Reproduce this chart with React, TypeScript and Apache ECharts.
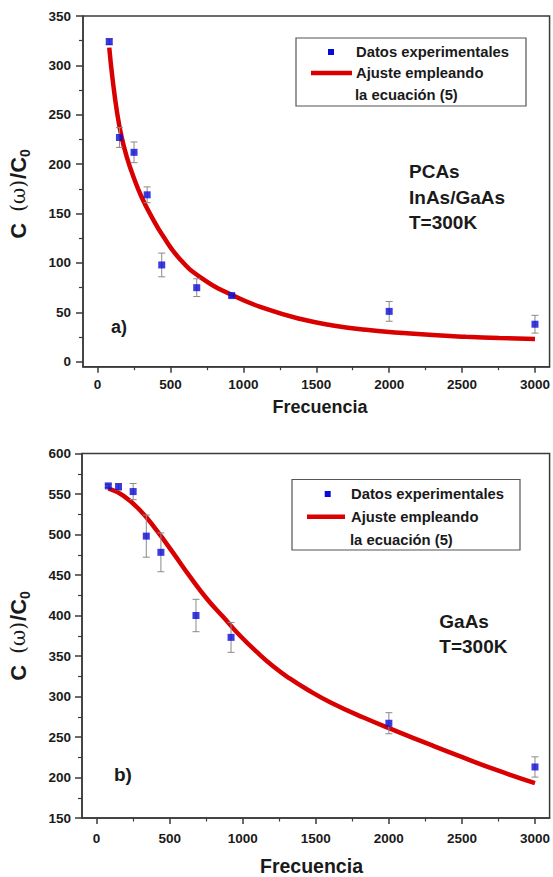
import React, { useEffect, useRef } from 'react';
import * as echarts from 'echarts';

// ---- Data ----
const FREQ = [80, 150, 250, 340, 440, 680, 920, 2000, 3000];
const TOP_VALUES = [324, 227, 212, 169, 98, 75, 67, 51, 38];
const TOP_ERRORS = [3, 10, 10.5, 8, 12, 9, 2, 10, 9];
const TOP_FIT_X = [80, 103, 134, 164, 199, 244, 301, 370, 450, 564, 701, 929, 1157, 1386, 1614, 1842, 2071, 2299, 2527, 2755, 3000];
const TOP_FIT_Y = [318, 286, 252, 228, 208, 188, 167, 147, 127, 104, 86, 67, 53.5, 43.5, 36.8, 32.4, 29.4, 27, 25.3, 24, 23];
const BOTTOM_VALUES = [560, 559, 553, 498, 478, 400, 373, 267, 213];
const BOTTOM_ERRORS = [2, 4, 10, 26, 24, 20, 18.5, 13, 12.5];
const BOTTOM_FIT_X = [80, 182, 297, 411, 525, 639, 753, 867, 982, 1096, 1210, 1324, 1438, 1598, 1826, 2055, 2283, 2511, 2740, 3000];
const BOTTOM_FIT_Y = [557, 548, 530, 505, 477, 448, 421, 398, 375, 355, 337, 322, 309, 293, 274, 257, 240.5, 224.5, 209, 193];
const X_TICKS = [0, 500, 1000, 1500, 2000, 2500, 3000];
const X_MINOR = [250, 750, 1250, 1750, 2250, 2750];
const TOP_Y_TICKS = [0, 50, 100, 150, 200, 250, 300, 350];
const TOP_Y_MINOR = [25, 75, 125, 175, 225, 275, 325];
const BOTTOM_Y_TICKS = [150, 200, 250, 300, 350, 400, 450, 500, 550, 600];
const BOTTOM_Y_MINOR = [175, 225, 275, 325, 375, 425, 475, 525, 575];

const LEGEND_POINTS = 'Datos experimentales';
const LEGEND_FIT_1 = 'Ajuste empleando';
const LEGEND_FIT_2 = 'la ecuación (5)';
const X_NAME = 'Frecuencia';

const FONT = '"Liberation Sans", Arial, Helvetica, sans-serif';
const AX = '#3a3a3a';
const TXT = '#1a1a1a';
const RED = '#d80000';
const BLUE = '#0a0ad8';

const zip = (a: number[], b: number[]) => a.map((v, i) => [v, b[i]]);
const zip3 = (a: number[], b: number[], c: number[]) => a.map((v, i) => [v, b[i], c[i]]);
const plain = (v: number) => String(v);

function mainX(grid: number, margin: number) {
  return {
    type: 'value', gridIndex: grid, min: -100, max: 3100, position: 'bottom',
    axisLine: { show: true, onZero: false, lineStyle: { color: AX, width: 1.5 } },
    axisTick: { show: true, customValues: X_TICKS, length: 6, inside: false, lineStyle: { color: AX, width: 1.5 } },
    axisLabel: { show: true, customValues: X_TICKS, formatter: plain, margin, fontSize: 13.5, fontWeight: 'bold', color: TXT, fontFamily: FONT },
    splitLine: { show: false },
  };
}
function minorX(grid: number) {
  return {
    type: 'value', gridIndex: grid, min: -100, max: 3100, position: 'bottom',
    axisLine: { show: false, onZero: false },
    axisTick: { show: true, customValues: X_MINOR, length: 3.5, inside: false, lineStyle: { color: AX, width: 1.2 } },
    axisLabel: { show: false },
    splitLine: { show: false },
  };
}
function mainY(grid: number, min: number, max: number, ticks: number[], margin: number) {
  return {
    type: 'value', gridIndex: grid, min, max, position: 'left',
    axisLine: { show: true, onZero: false, lineStyle: { color: AX, width: 1.5 } },
    axisTick: { show: true, customValues: ticks, length: 7, inside: false, lineStyle: { color: AX, width: 1.5 } },
    axisLabel: { show: true, customValues: ticks, formatter: plain, margin, fontSize: 13.5, fontWeight: 'bold', color: TXT, fontFamily: FONT },
    splitLine: { show: false },
  };
}
function minorY(grid: number, min: number, max: number, ticks: number[]) {
  return {
    type: 'value', gridIndex: grid, min, max, position: 'left',
    axisLine: { show: false, onZero: false },
    axisTick: { show: true, customValues: ticks, length: 4, inside: false, lineStyle: { color: AX, width: 1.2 } },
    axisLabel: { show: false },
    splitLine: { show: false },
  };
}

function errorSeries(xi: number, yi: number, data: number[][]) {
  return {
    type: 'custom', xAxisIndex: xi, yAxisIndex: yi, z: 3,
    encode: { x: 0, y: 1 },
    data,
    renderItem: (params: any, api: any) => {
      const x = api.value(0), y = api.value(1), e = api.value(2);
      const t = api.coord([x, y + e]);
      const b = api.coord([x, y - e]);
      const w = 3.5;
      const st = { stroke: '#8a8a8a', lineWidth: 1 };
      return {
        type: 'group',
        children: [
          { type: 'line', shape: { x1: t[0], y1: t[1], x2: b[0], y2: b[1] }, style: st },
          { type: 'line', shape: { x1: t[0] - w, y1: t[1], x2: t[0] + w, y2: t[1] }, style: st },
          { type: 'line', shape: { x1: b[0] - w, y1: b[1], x2: b[0] + w, y2: b[1] }, style: st },
        ],
      };
    },
  };
}

function txt(x: number, y: number, text: string, size: number, align = 'left') {
  return {
    type: 'text', x, y, silent: true,
    style: {
      text, fill: TXT, font: `bold ${size}px ${FONT}`,
      align, verticalAlign: 'middle', textAlign: align, textVerticalAlign: 'middle',
    },
  };
}

function yName(x: number, y: number) {
  return {
    type: 'text', x, y, rotation: Math.PI / 2, silent: true,
    style: {
      text: '{a|C }{w|(ω)}{a|/C}{b|0}',
      fill: TXT,
      align: 'center', verticalAlign: 'middle', textAlign: 'center', textVerticalAlign: 'middle',
      rich: {
        a: { fontSize: 22, fontWeight: 'bold', fontFamily: FONT, lineHeight: 28, fill: TXT, color: TXT },
        w: { fontSize: 20, fontWeight: 'normal', fontFamily: '"DejaVu Serif", "Liberation Serif", serif', lineHeight: 28, padding: [0, 1, 0, 5], fill: TXT, color: TXT },
        b: { fontSize: 14, fontWeight: 'bold', fontFamily: FONT, lineHeight: 12, verticalAlign: 'bottom', fill: TXT, color: TXT },
      },
    },
  };
}

function legend(bx: number, by: number, bw: number, bh: number, mx: number, my: number, tx: number, ys: number[], lx1: number, lx2: number) {
  return [
    { type: 'rect', shape: { x: bx, y: by, width: bw, height: bh }, style: { fill: '#fff', stroke: '#555', lineWidth: 1.2 }, z: 10 },
    { type: 'rect', shape: { x: mx - 3, y: my - 3, width: 6, height: 6 }, style: { fill: BLUE }, z: 11 },
    { type: 'line', shape: { x1: lx1, y1: ys[1], x2: lx2, y2: ys[1] }, style: { stroke: RED, lineWidth: 4.5 }, z: 11 },
    { ...txt(tx, ys[0], LEGEND_POINTS, 14.8), z: 11 },
    { ...txt(tx, ys[1], LEGEND_FIT_1, 14.8), z: 11 },
    { ...txt(tx - 1, ys[2], LEGEND_FIT_2, 14.8), z: 11 },
  ];
}

export default function App() {
  const ref = useRef<HTMLDivElement>(null);
  useEffect(() => {
    if (!ref.current) return;
    const chart = echarts.init(ref.current, undefined, { renderer: 'svg' });
    chart.setOption({
      animation: false,
      backgroundColor: '#fff',
      grid: [
        { left: 83, top: 16, right: 2.5, bottom: 510.3, show: true, borderColor: AX, borderWidth: 1.5, backgroundColor: 'transparent' },
        { left: 82, top: 453.5, right: 3, bottom: 59, show: true, borderColor: AX, borderWidth: 1.5, backgroundColor: 'transparent' },
      ],
      xAxis: [mainX(0, 11), minorX(0), mainX(1, 13), minorX(1)],
      yAxis: [
        mainY(0, -5, 350, TOP_Y_TICKS, 12), minorY(0, -5, 350, TOP_Y_MINOR),
        mainY(1, 150, 600, BOTTOM_Y_TICKS, 11), minorY(1, 150, 600, BOTTOM_Y_MINOR),
      ],
      series: [
        {
          type: 'line', xAxisIndex: 0, yAxisIndex: 0, data: zip(TOP_FIT_X, TOP_FIT_Y), showSymbol: false, smooth: 0.5, z: 2,
          lineStyle: { color: RED, width: 4.5 },
        },
        errorSeries(0, 0, zip3(FREQ, TOP_VALUES, TOP_ERRORS)),
        {
          type: 'scatter', xAxisIndex: 0, yAxisIndex: 0, data: zip(FREQ, TOP_VALUES), symbol: 'rect', symbolSize: 7, z: 4,
          itemStyle: { color: BLUE },
        },
        {
          type: 'line', xAxisIndex: 2, yAxisIndex: 2, data: zip(BOTTOM_FIT_X, BOTTOM_FIT_Y), showSymbol: false, smooth: 0.5, z: 2,
          lineStyle: { color: RED, width: 4.5 },
        },
        errorSeries(2, 2, zip3(FREQ, BOTTOM_VALUES, BOTTOM_ERRORS)),
        {
          type: 'scatter', xAxisIndex: 2, yAxisIndex: 2, data: zip(FREQ, BOTTOM_VALUES), symbol: 'rect', symbolSize: 7, z: 4,
          itemStyle: { color: BLUE },
        },
      ],
      graphic: [
        ...legend(296, 38, 230, 68, 331, 52, 356, [52, 73, 95], 311, 352),
        ...legend(292, 479.5, 228, 70.5, 327.7, 494, 351, [494, 516.7, 540], 307, 345),
        txt(409, 171.7, 'PCAs', 19),
        txt(409, 197, 'InAs/GaAs', 19),
        txt(409, 222, 'T=300K', 19),
        txt(111, 327, 'a)', 18),
        txt(439.3, 621.7, 'GaAs', 19),
        txt(439.3, 646.7, 'T=300K', 19),
        txt(114, 774, 'b)', 19),
        txt(320, 406.7, X_NAME, 18, 'center'),
        txt(311.5, 866, X_NAME, 19.5, 'center'),
        yName(18, 194),
        yName(18, 636),
      ],
    });
    return () => chart.dispose();
  }, []);
  return <div ref={ref} style={{ position: 'fixed', left: 0, top: 0, width: 553, height: 877 }} />;
}
